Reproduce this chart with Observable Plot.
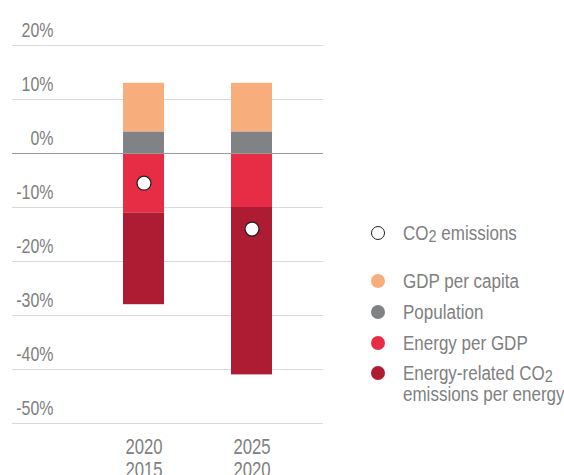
<!DOCTYPE html>
<html>
<head>
<meta charset="utf-8">
<script src="https://cdn.jsdelivr.net/npm/d3@7"></script>
<script src="https://cdn.jsdelivr.net/npm/@observablehq/plot@0.6"></script>
<style>
  html, body { margin: 0; padding: 0; background: #fff; }
  body { width: 564px; height: 475px; overflow: hidden; }
  #wrap { position: relative; width: 564px; height: 475px; font-family: "Liberation Sans", Arial, sans-serif; color: #808080; }
  #chart { position: absolute; left: 0; top: 0; }
  .row { position: absolute; left: 371px; width: 260px; font-size: 20px; line-height: 20.5px; white-space: nowrap; }
  .dot { position: absolute; left: 0; top: 3px; width: 14px; height: 14px; border-radius: 50%; box-sizing: border-box; }
  .txt { position: absolute; left: 32px; top: 0; transform: scaleX(0.85); transform-origin: 0 0; }
  .sub { font-size: 0.85em; position: relative; top: 0.12em; line-height: 0; }
</style>
</head>
<body>
<div id="wrap">
  <div id="chart"></div>
</div>
<script>
const periods = ["2020\n2015", "2025\n2020"];
const components = ["Population", "GDP per capita", "Energy per GDP", "Energy-related CO2 emissions per energy"];
const population = [4, 4];
const gdpPerCapita = [9, 9];
const energyPerGdp = [-11, -10];
const co2PerEnergy = [-17, -31];
const co2Emissions = [-5.5, -14];
const yTicks = [20, 10, 0, -10, -20, -30, -40, -50];
const colors = ["#818285", "#F7AE7C", "#E62D45", "#AE1C33"];

const series = [population, gdpPerCapita, energyPerGdp, co2PerEnergy];
const bars = [];
periods.forEach((p, i) => {
  components.forEach((c, j) => bars.push({period: p, component: c, value: series[j][i]}));
});
const dots = periods.map((p, i) => ({period: p, value: co2Emissions[i]}));

const plot = Plot.plot({
  width: 330,
  height: 475,
  marginLeft: 12,
  marginRight: 7,
  marginTop: 45,
  marginBottom: 52,
  style: {fontFamily: '"Liberation Sans", Arial, sans-serif', background: "transparent"},
  x: {domain: periods, range: [54, 340], paddingInner: 0.624, paddingOuter: 0.624, axis: null},
  y: {domain: [-50, 20], axis: null},
  color: {domain: components, range: colors},
  marks: [
    Plot.ruleY(yTicks.filter(d => d !== 0), {stroke: "#d9d9d9", strokeWidth: 1}),
    Plot.barY(bars, {x: "period", y: "value", fill: "component", inset: 0}),
    Plot.ruleY([0], {stroke: "#9a9a9a", strokeWidth: 1.2}),
    Plot.dot(dots, {x: "period", y: "value", r: 7, fill: "white", stroke: "#231f20", strokeWidth: 1.3}),
    Plot.text(yTicks, {y: d => d, text: d => `${d}%`, frameAnchor: "left", dx: 41, textAnchor: "end", lineAnchor: "bottom", dy: -9, fontSize: 21, fill: "#808080"}),
    Plot.text(periods, {x: d => d, text: d => d, frameAnchor: "bottom", lineAnchor: "top", dy: 13, fontSize: 22, lineHeight: 1.09, fill: "#808080"})
  ]
});
document.getElementById("chart").appendChild(plot);

// condense the glyphs horizontally (narrow typeface look)
plot.querySelectorAll('g[aria-label="text"] text').forEach(t => {
  const x = +t.getAttribute("x") || 0;
  const y = +t.getAttribute("y") || 0;
  const tr = t.getAttribute("transform") || "";
  t.setAttribute("transform", `${tr} translate(${x},${y}) scale(0.76,1) translate(${-x},${-y})`);
});

const legendItems = [
  {top: 223, html: 'CO<span class="sub">2</span> emissions', style: "background:#fff;border:1.3px solid #231f20;"},
  {top: 271, html: 'GDP per capita', style: "background:" + colors[1]},
  {top: 302, html: 'Population', style: "background:" + colors[0]},
  {top: 333, html: 'Energy per GDP', style: "background:" + colors[2]},
  {top: 363, html: 'Energy-related CO<span class="sub">2</span><br>emissions per energy', style: "background:" + colors[3]}
];
const wrap = document.getElementById("wrap");
legendItems.forEach(it => {
  const row = document.createElement("div");
  row.className = "row";
  row.style.top = it.top + "px";
  row.innerHTML = `<div class="dot" style="${it.style}"></div><div class="txt">${it.html}</div>`;
  wrap.appendChild(row);
});
</script>
</body>
</html>
